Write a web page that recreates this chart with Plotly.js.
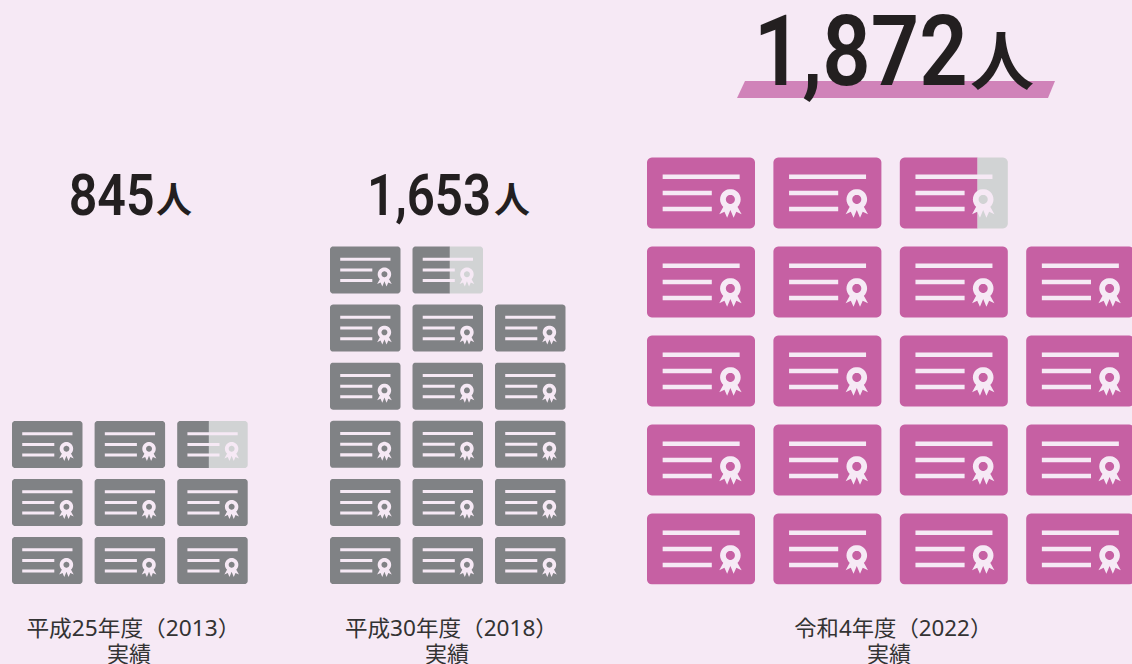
<!DOCTYPE html>
<html><head><meta charset="utf-8">
<script src="https://cdn.plot.ly/plotly-3.0.1.min.js"></script>
<style>html,body{margin:0;padding:0;background:#F6E9F5;overflow:hidden}#c{width:1132px;height:664px}</style>
</head><body><div id="c"></div>
<script>
// ---- data ----
const labels = ['平成25年度（2013）', '平成30年度（2018）', '令和4年度（2022）'];
const sublabel = '実績';
const values = [845, 1653, 1872];
const unit = 100;               // one certificate icon = 100 people
const suffix = '人';
const columns = [3, 3, 4];
const cardColors = ['#808285', '#808285', '#C660A3'];

// ---- page layout (pixels) ----
const W = 1132, H = 664, BG = '#F6E9F5', REST = '#D1D3D4', INK = '#231F20';
const grids = [
  {left: 12,  pitchX: 82.6,  cardW: 70.5, bottom: 584, pitchY: 58,   cardH: 47, r: 3, labelX: 133, labelW: 214, subX: 129, numX: 111.5, numW: 86, kanjiX: 173.5, numY: 195, kanjiY: 197, numSize: 58, kanjiSize: 36},
  {left: 330, pitchX: 82.5,  cardW: 70.5, bottom: 584, pitchY: 58.1, cardH: 47, r: 3, labelX: 451.5, labelW: 213, subX: 447, numX: 429, numW: 124, kanjiX: 511.5, numY: 195, kanjiY: 197, numSize: 58, kanjiSize: 36},
  {left: 647, pitchX: 126.4, cardW: 108,  bottom: 584.5, pitchY: 89, cardH: 71, r: 5, labelX: 894, labelW: 198, subX: 889, numX: 860, numW: 214, kanjiX: 1002, numY: 51.5, kanjiY: 57, numSize: 99, kanjiSize: 64}
];

// icon geometry, as fractions of a card (x from left, y from top)
const rules = [[.145, .858, .27], [.145, .60, .50], [.145, .60, .725]];
const ruleT = .032;
const seal = {x: .772, y: .59, R: .0955, hole: .042};
const tails = [[-.06,.68],[-.103,.80],[-.055,.765],[-.03,.85],[0,.74],[.03,.85],[.055,.765],[.104,.80],[.06,.68]];

function clamp(v, a, b) { return Math.min(b, Math.max(a, v)); }

function build(i) {
  const g = grids[i], n = values[i] / unit, count = Math.ceil(n), cols = columns[i];
  const rows = Math.ceil(count / cols);
  const suf = i === 0 ? '' : String(i + 1);
  const layers = {on: [[], []], off: [[], []], rule: [[], []], seal: [[], []], tail: [[], []], holeOn: [[], []], holeOff: [[], []]};
  const w = g.cardW / g.pitchX, h = g.cardH / g.pitchY;
  const add = (layer, pts) => {
    for (const p of pts) { layer[0].push(p[0]); layer[1].push(p[1]); }
    layer[0].push(null); layer[1].push(null);
  };
  for (let k = 0; k < count; k++) {
    const col = k % cols, row = Math.floor(k / cols);
    const share = clamp(n - k, 0, 1);
    const X = f => col + f * w, Y = f => row + h * (1 - f);
    const split = share;
    const rx = g.r / g.cardW, ry = g.r / g.cardH;
    const corner = [];
    [[1 - rx, ry, -90], [1 - rx, 1 - ry, 0], [rx, 1 - ry, 90], [rx, ry, 180]].forEach(c => {
      for (let a = 0; a <= 90; a += 15) {
        const t = (c[2] + a) * Math.PI / 180;
        corner.push([c[0] + rx * Math.cos(t), c[1] + ry * Math.sin(t)]);
      }
    });
    add(layers.on, corner.map(p => [X(Math.min(p[0], split)), Y(p[1])]));
    if (share < 1) add(layers.off, corner.map(p => [X(Math.max(p[0], split)), Y(p[1])]));
    rules.forEach(r => add(layers.rule, [[r[0], r[2] - ruleT], [r[1], r[2] - ruleT], [r[1], r[2] + ruleT], [r[0], r[2] + ruleT]].map(p => [X(p[0]), Y(p[1])])));
    const aspect = g.cardW / g.cardH;
    const circle = rad => { const a = []; for (let d = 0; d < 360; d += 12) { const t = d * Math.PI / 180; a.push([seal.x + rad * Math.cos(t), seal.y + rad * aspect * Math.sin(t)]); } return a; };
    add(layers.seal, circle(seal.R).map(p => [X(p[0]), Y(p[1])]));
    add(layers.tail, tails.map(p => [X(seal.x + p[0]), Y(p[1])]));
    const hole = circle(seal.hole);
    add(layers.holeOn, hole.map(p => [X(Math.min(p[0], split)), Y(p[1])]));
    if (share < 1) add(layers.holeOff, hole.map(p => [X(Math.max(p[0], split)), Y(p[1])]));
  }
  const tr = (l, color) => ({
    type: 'scatter', mode: 'lines', x: l[0], y: l[1], xaxis: 'x' + suf, yaxis: 'y' + suf,
    fill: 'toself', fillcolor: color, line: {width: 0, color: color, simplify: false}, hoverinfo: 'skip', showlegend: false
  });
  const traces = [tr(layers.on, cardColors[i])];
  if (layers.off[0].length) traces.push(tr(layers.off, REST));
  traces.push(tr(layers.rule, BG), tr(layers.tail, BG), tr(layers.seal, BG), tr(layers.holeOn, cardColors[i]));
  if (layers.holeOff[0].length) traces.push(tr(layers.holeOff, REST));

  const axX = {domain: [g.left / W, Math.min(1, (g.left + cols * g.pitchX) / W)], visible: false, fixedrange: true, anchor: 'y' + suf};
  const right = Math.min(W, g.left + cols * g.pitchX);
  axX.range = [0, (right - g.left) / g.pitchX];
  const axY = {domain: [(H - g.bottom) / H, (H - g.bottom + rows * g.pitchY) / H], range: [0, rows], visible: false, fixedrange: true, anchor: 'x' + suf};
  return {traces, axX, axY, suf};
}

const data = [], layout = {
  width: W, height: H, margin: {l: 0, r: 0, t: 0, b: 0},
  paper_bgcolor: BG, plot_bgcolor: 'rgba(0,0,0,0)', showlegend: false, annotations: [],
  shapes: [{type: 'path', xref: 'paper', yref: 'paper', layer: 'below', line: {width: 0}, fillcolor: '#D083B9',
    path: `M ${745/W} ${1-81/H} L ${1055/W} ${1-81/H} L ${1048/W} ${1-98/H} L ${737/W} ${1-98/H} Z`}]
};
const NUMFONT = 'Roboto, sans-serif', CJK = '"Noto Sans CJK JP", sans-serif', LABELFONT = '"Noto Sans", "Noto Sans CJK JP", sans-serif';
const squeeze = {};
const note = (x, y, text, font) => ({xref: 'paper', yref: 'paper', x: x / W, y: 1 - y / H, xanchor: 'center', yanchor: 'middle', showarrow: false, borderpad: 0, text, font});
grids.forEach((g, i) => {
  const b = build(i);
  data.push(...b.traces);
  layout['xaxis' + b.suf] = b.axX;
  layout['yaxis' + b.suf] = b.axY;
  const num = values[i].toLocaleString('en-US');
  squeeze[num] = g.numW;
  squeeze[labels[i]] = g.labelW;
  layout.annotations.push(
    note(g.numX, g.numY, num, {family: NUMFONT, size: g.numSize, color: INK, weight: 600}),
    note(g.kanjiX, g.kanjiY, suffix, {family: CJK, size: g.kanjiSize, color: INK, weight: 700}),
    note(g.labelX, 627, labels[i], {family: LABELFONT, size: 21.5, color: '#333333'}),
    note(g.subX, 653, sublabel, {family: LABELFONT, size: 22, color: '#333333'})
  );
});
Plotly.newPlot('c', data, layout, {displayModeBar: false, staticPlot: true}).then(gd => {
  // the reference's numerals and labels use other faces: fit the real text to the width it has there
  gd.querySelectorAll('.annotation-text').forEach(t => {
    const w = squeeze[t.textContent];
    if (w) { t.setAttribute('textLength', w); t.setAttribute('lengthAdjust', 'spacingAndGlyphs'); }
  });
});
</script></body></html>
